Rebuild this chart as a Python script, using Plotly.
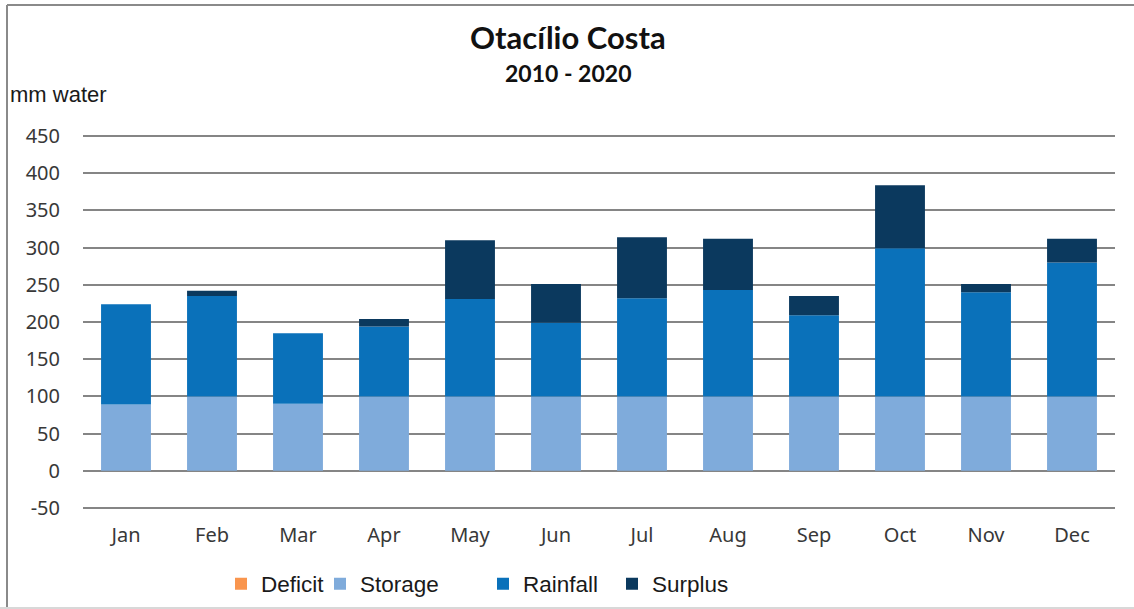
import plotly.graph_objects as go

# Monthly water balance, Otacílio Costa (2010 - 2020), mm of water
months = ["Jan", "Feb", "Mar", "Apr", "May", "Jun", "Jul", "Aug", "Sep", "Oct", "Nov", "Dec"]
deficit = [0, 0, 0, 0, 0, 0, 0, 0, 0, 0, 0, 0]
storage = [89, 100, 90, 100, 100, 100, 100, 100, 100, 100, 100, 100]
rainfall = [135, 135, 95, 94, 131, 99, 132, 143, 109, 199, 140, 180]
surplus = [0, 7, 0, 10, 79, 52, 82, 69, 26, 85, 11, 32]
y_ticks = [-50, 0, 50, 100, 150, 200, 250, 300, 350, 400, 450]
y_tick_labels = ["-50", "0", "50", "100", "150", "200", "250", "300", "350", "400", "450"]

W, H = 1134, 609
ML, MR, MT, MB = 83, 19, 135, 100
pw, ph = W - ML - MR, H - MT - MB


def px_x(v):
    """Pixel column -> paper x."""
    return (v - ML) / pw


def px_y(v):
    """Pixel row (from top) -> paper y."""
    return (H - MB - v) / ph


series = [
    ("Deficit", deficit, "#F9954E", "legend", 221),
    ("Storage", storage, "#7FABDB", "legend2", 320),
    ("Rainfall", rainfall, "#0A71BA", "legend3", 483),
    ("Surplus", surplus, "#0B395E", "legend4", 612),
]

fig = go.Figure()
for name, vals, color, leg, _ in series:
    fig.add_trace(go.Bar(
        x=months, y=vals, name=name, legend=leg,
        marker=dict(color=color, line=dict(width=0)),
    ))

legend_font = dict(family="Liberation Sans, Arial, sans-serif", size=22.5, color="#1a1a1a")
legends = {}
for _, _, _, leg, px in series:
    legends[leg] = dict(
        xref="container", yref="container",
        x=px / W, y=(H - 584) / H, xanchor="left", yanchor="middle",
        orientation="h", font=legend_font, bgcolor="rgba(0,0,0,0)",
        itemwidth=30, borderwidth=0,
    )

tick_font = dict(family="Noto Sans, Open Sans, sans-serif", size=20, color="#383838")
fig.update_layout(
    width=W, height=H,
    barmode="relative", bargap=0.42,
    plot_bgcolor="white", paper_bgcolor="white",
    margin=dict(l=ML, r=MR, t=MT, b=MB),
    showlegend=True,
    **legends,
    xaxis=dict(
        showgrid=False, showline=False, zeroline=False,
        ticks="", ticklabelstandoff=12, tickfont=tick_font,
    ),
    yaxis=dict(
        range=[-51.4, 451.4], tickvals=y_ticks, ticktext=y_tick_labels,
        showgrid=True, gridcolor="#858585", gridwidth=2,
        zeroline=True, zerolinecolor="#858585", zerolinewidth=2,
        showline=False, ticks="", ticklabelstandoff=22, tickfont=tick_font,
    ),
    annotations=[
        dict(text="<b>Otacílio Costa</b>", xref="paper", yref="paper",
             x=px_x(568), y=px_y(37), xanchor="center", yanchor="middle", showarrow=False,
             font=dict(family="Lato, sans-serif", size=31, color="#111")),
        dict(text="<b>2010 - 2020</b>", xref="paper", yref="paper",
             x=px_x(568), y=px_y(73), xanchor="center", yanchor="middle", showarrow=False,
             font=dict(family="Lato, sans-serif", size=23, color="#111")),
        dict(text="mm water", xref="paper", yref="paper",
             x=px_x(8), y=px_y(94), xanchor="left", yanchor="middle", showarrow=False,
             font=dict(family="Liberation Sans, Arial, sans-serif", size=22, color="#1a1a1a")),
    ],
)

# outer frame
frame = dict(color="#8a8a8a", width=2)
fig.add_shape(type="line", xref="paper", yref="paper", x0=px_x(7), x1=px_x(7), y0=px_y(5), y1=px_y(608), line=frame)
fig.add_shape(type="line", xref="paper", yref="paper", x0=px_x(7), x1=px_x(1140), y0=px_y(5), y1=px_y(5), line=frame)
fig.add_shape(type="line", xref="paper", yref="paper", x0=px_x(0), x1=px_x(1140), y0=px_y(608), y1=px_y(608),
              line=dict(color="#d8d8d8", width=2))

fig.write_html("out.html")
